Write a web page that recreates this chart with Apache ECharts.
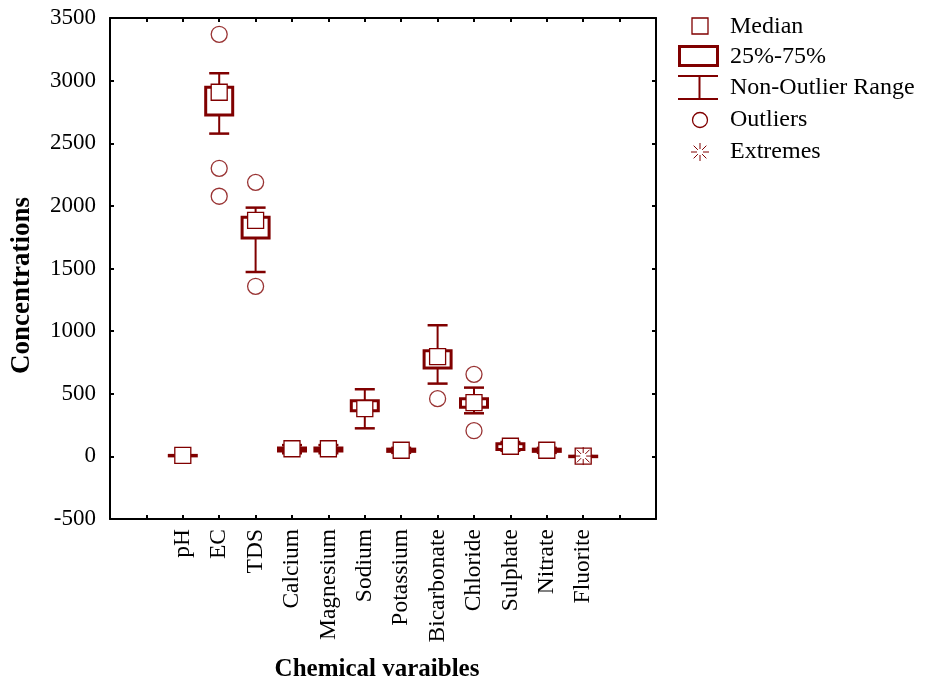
<!DOCTYPE html>
<html>
<head>
<meta charset="utf-8">
<script src="https://cdn.jsdelivr.net/npm/echarts@6/dist/echarts.min.js"></script>
<style>
html,body{margin:0;padding:0;background:#fff;}
#chart{width:927px;height:682px;}
</style>
</head>
<body>
<div id="chart"></div>
<script>
// ---- data ----
var categories = ['pH','EC','TDS','Calcium','Magnesium','Sodium','Potassium','Bicarbonate','Chloride','Sulphate','Nitrate','Fluorite'];
var positions  = [2,3,4,5,6,7,8,9,10,11,12,13];
var medians      = [7.5, 2907, 1885, 61, 61, 381, 49, 797, 429, 81, 49, 1.2];
var q1           = [7.2, 2726, 1744, 43, 43, 365, 40, 706, 392, 55, 40, 0.8];
var q3           = [7.9, 2947, 1909, 67, 67, 445, 58, 844, 461, 100, 58, 1.6];
var whiskerLow   = [6.8, 2577, 1472, 25, 25, 224, 28, 581, 344, 45, 28, 0.5];
var whiskerHigh  = [8.3, 3059, 1986, 90, 90, 536, 68, 1047, 549, 115, 68, 2.0];
var outliers     = [[], [3370, 2300, 2077], [2188, 1358], [], [], [], [], [461], [655, 205], [], [], []];
var extremes     = [[], [], [], [], [], [], [], [], [], [], [], [2.5]];
var yTicks = [-500, 0, 500, 1000, 1500, 2000, 2500, 3000, 3500];

var RED = '#800000';
var FONT = 'Liberation Serif';

var boxData = positions.map(function (p, i) {
  return [p, whiskerLow[i], q1[i], medians[i], q3[i], whiskerHigh[i]];
});
var outlierData = [];
outliers.forEach(function (arr, i) { arr.forEach(function (v) { outlierData.push([positions[i], v]); }); });
var extremeData = [];
extremes.forEach(function (arr, i) { arr.forEach(function (v) { extremeData.push([positions[i], v]); }); });

function asteriskShapes(cx, cy, r, gap) {
  var els = [];
  var dirs = [[0,1],[1,0],[0.7071,0.7071],[0.7071,-0.7071]];
  dirs.forEach(function (d) {
    [1,-1].forEach(function (s) {
      els.push({type:'line', shape:{x1:cx + s*d[0]*gap, y1:cy + s*d[1]*gap, x2:cx + s*d[0]*r, y2:cy + s*d[1]*r},
        style:{stroke:RED, lineWidth:1}});
    });
  });
  return els;
}

var chart = echarts.init(document.getElementById('chart'));
var axisLineStyle = {color:'#000', width:2};
var tickStyle = {show:true, inside:true, length:4, lineStyle:{color:'#000', width:2}};
var option = {
  animation: false,
  backgroundColor: '#fff',
  grid: {left:110, top:18, right:271, bottom:163, containLabel:false, outerBoundsMode:'none'},
  xAxis: [{
    type:'value', min:0, max:15, interval:1, position:'bottom',
    splitLine:{show:false},
    axisLine:{show:true, onZero:false, lineStyle:axisLineStyle},
    axisTick:tickStyle,
    axisLabel:{
      show:true, rotate:90, margin:10, color:'#000', fontFamily:FONT, fontSize:23.5,
      formatter:function (v) { var i = positions.indexOf(v); return i >= 0 ? categories[i] : ''; }
    },
    name:'Chemical varaibles', nameLocation:'middle', nameGap:138,
    nameTextStyle:{color:'#000', fontFamily:FONT, fontSize:25, fontWeight:'bold', padding:[0,12,0,0]}
  },{
    type:'value', min:0, max:15, interval:1, position:'top',
    splitLine:{show:false},
    axisLine:{show:true, onZero:false, lineStyle:axisLineStyle},
    axisTick:tickStyle,
    axisLabel:{show:false}
  }],
  yAxis: [{
    type:'value', min:-500, max:3500, interval:500, position:'left',
    splitLine:{show:false},
    axisLine:{show:true, onZero:false, lineStyle:axisLineStyle},
    axisTick:tickStyle,
    axisLabel:{show:true, margin:14, color:'#000', fontFamily:FONT, fontSize:23,
      formatter:function (v) { return yTicks.indexOf(v) >= 0 ? String(v) : ''; }},
    name:'Concentrations', nameLocation:'middle', nameGap:74,
    nameTextStyle:{color:'#000', fontFamily:FONT, fontSize:27, fontWeight:'bold', padding:[0,34,0,0]}
  },{
    type:'value', min:-500, max:3500, interval:500, position:'right',
    splitLine:{show:false},
    axisLine:{show:true, onZero:false, lineStyle:axisLineStyle},
    axisTick:tickStyle,
    axisLabel:{show:false}
  }],
  series: [{
    type:'custom',
    xAxisIndex:0, yAxisIndex:0,
    data: boxData,
    encode:{x:0, y:[1,2,3,4,5]},
    renderItem:function (params, api) {
      var x = api.value(0);
      var pLow = api.coord([x, api.value(1)]);
      var pQ1 = api.coord([x, api.value(2)]);
      var pMed = api.coord([x, api.value(3)]);
      var pQ3 = api.coord([x, api.value(4)]);
      var pHigh = api.coord([x, api.value(5)]);
      var cx = pMed[0];
      var boxW = 27, capW = 20, sq = 16;
      var top = pQ3[1], bot = pQ1[1];
      var children = [
        {type:'line', shape:{x1:cx, y1:pHigh[1], x2:cx, y2:pLow[1]}, style:{stroke:RED, lineWidth:2}},
        {type:'line', shape:{x1:cx-capW/2, y1:pHigh[1], x2:cx+capW/2, y2:pHigh[1]}, style:{stroke:RED, lineWidth:2.5}},
        {type:'line', shape:{x1:cx-capW/2, y1:pLow[1], x2:cx+capW/2, y2:pLow[1]}, style:{stroke:RED, lineWidth:2.5}},
        {type:'rect', shape:{x:cx-boxW/2, y:top, width:boxW, height:Math.max(bot-top, 0.5)}, style:{fill:'#fff', stroke:RED, lineWidth:3}},
        {type:'rect', shape:{x:cx-sq/2, y:pMed[1]-sq/2, width:sq, height:sq}, style:{fill:'#fff', stroke:RED, lineWidth:1.3}}
      ];
      return {type:'group', children:children};
    },
    z:2
  },{
    type:'scatter',
    xAxisIndex:0, yAxisIndex:0,
    data: outlierData,
    symbol:'circle', symbolSize:16,
    itemStyle:{color:'rgba(255,255,255,0)', borderColor:RED, borderWidth:1.3},
    z:3
  },{
    type:'custom',
    xAxisIndex:0, yAxisIndex:0,
    data: extremeData,
    renderItem:function (params, api) {
      var p = api.coord([api.value(0), api.value(1)]);
      return {type:'group', children:asteriskShapes(p[0], p[1], 9, 3)};
    },
    z:4
  }],
  graphic: [
    // legend
    {type:'rect', shape:{x:692, y:18, width:16, height:16}, style:{fill:'#fff', stroke:RED, lineWidth:1.3}},
    {type:'text', left:730, top:15, style:{text:'Median', font:'24px "Liberation Serif"', fill:'#000'}},
    {type:'rect', shape:{x:679.5, y:46.5, width:38, height:19}, style:{fill:'#fff', stroke:RED, lineWidth:3}},
    {type:'text', left:730, top:45, style:{text:'25%-75%', font:'24px "Liberation Serif"', fill:'#000'}},
    {type:'line', shape:{x1:678, y1:76, x2:718, y2:76}, style:{stroke:RED, lineWidth:2}},
    {type:'line', shape:{x1:678, y1:99, x2:718, y2:99}, style:{stroke:RED, lineWidth:2}},
    {type:'line', shape:{x1:699.5, y1:76, x2:699.5, y2:99}, style:{stroke:RED, lineWidth:2}},
    {type:'text', left:730, top:76, style:{text:'Non-Outlier Range', font:'24px "Liberation Serif"', fill:'#000'}},
    {type:'circle', shape:{cx:700, cy:120, r:7.5}, style:{fill:'#fff', stroke:RED, lineWidth:1.3}},
    {type:'text', left:730, top:108, style:{text:'Outliers', font:'24px "Liberation Serif"', fill:'#000'}},
    {type:'group', children:asteriskShapes(700, 152, 9, 3)},
    {type:'text', left:730, top:140, style:{text:'Extremes', font:'24px "Liberation Serif"', fill:'#000'}}
  ]
};
chart.setOption(option);
</script>
</body>
</html>
